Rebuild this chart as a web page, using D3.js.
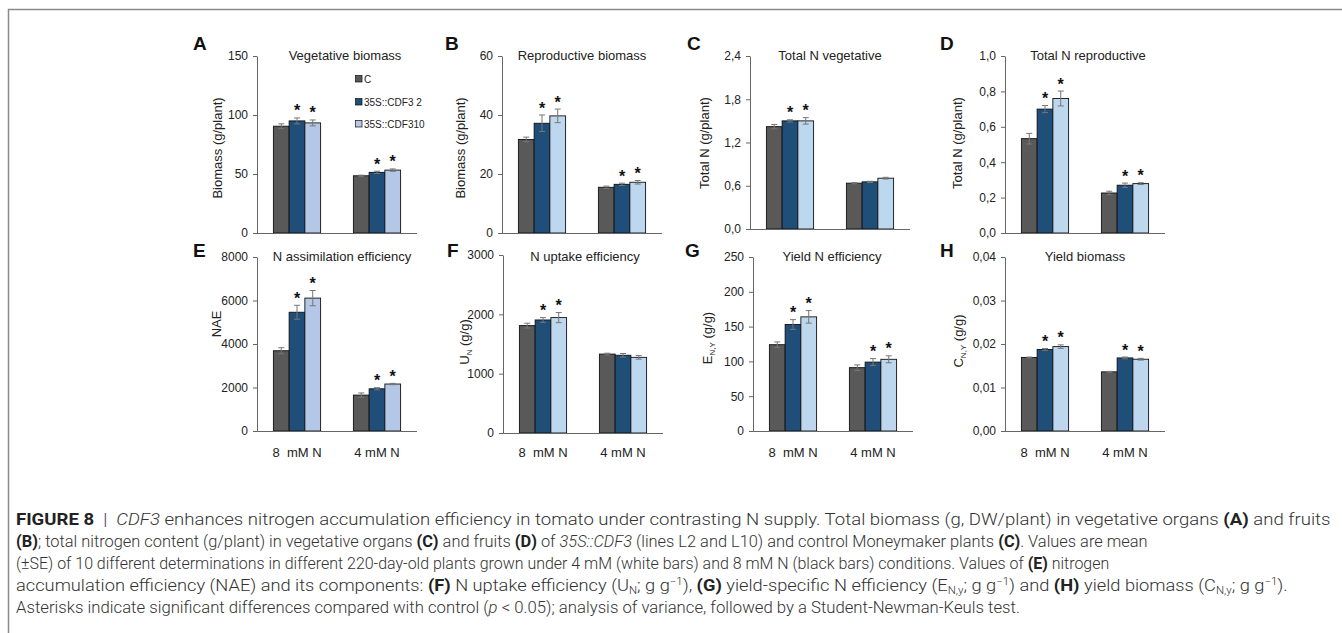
<!DOCTYPE html>
<html><head><meta charset="utf-8">
<script src="https://cdn.jsdelivr.net/npm/d3@7"></script>
<style>
html,body{margin:0;padding:0;background:#fff;}
svg{display:block;font-family:"Liberation Sans",Arial,sans-serif;}
</style></head><body>
<svg id="fig" width="1342" height="633"></svg>
<script>
// ---------- DATA ----------
const categories = ["8  mM N", "4 mM N"];
const seriesNames = ["C", "35S::CDF3 2", "35S::CDF310"];

// rows = categories, columns = series
const vegBiomass      = [[90.5, 95.0, 93.3], [48.5, 51.4, 53.3]];
const vegBiomassErr   = [[2.0, 2.5, 2.5], [0.5, 1.0, 1.0]];
const vegBiomassSig   = [[0, 1, 1], [0, 1, 1]];
const vegBiomassTicks = [0, 50, 100, 150];

const repBiomass      = [[31.7, 37.2, 39.7], [15.5, 16.5, 17.2]];
const repBiomassErr   = [[0.8, 2.8, 2.3], [0.4, 0.4, 0.6]];
const repBiomassSig   = [[0, 1, 1], [0, 1, 1]];
const repBiomassTicks = [0, 20, 40, 60];

const totNVeg      = [[1.42, 1.50, 1.50], [0.636, 0.654, 0.705]];
const totNVegErr   = [[0.03, 0.015, 0.045], [0.008, 0.008, 0.012]];
const totNVegSig   = [[0, 1, 1], [0, 0, 0]];
const totNVegTicks = [0, 0.6, 1.2, 1.8, 2.4];

const totNRep      = [[0.533, 0.700, 0.760], [0.226, 0.270, 0.279]];
const totNRepErr   = [[0.03, 0.02, 0.042], [0.01, 0.012, 0.005]];
const totNRepSig   = [[0, 1, 1], [0, 1, 1]];
const totNRepTicks = [0, 0.2, 0.4, 0.6, 0.8, 1.0];

const nae      = [[3690, 5460, 6110], [1650, 1940, 2160]];
const naeErr   = [[140, 320, 350], [100, 50, 30]];
const naeSig   = [[0, 1, 1], [0, 1, 1]];
const naeTicks = [0, 2000, 4000, 6000, 8000];

const uptake      = [[1810, 1905, 1945], [1330, 1310, 1275]];
const uptakeErr   = [[40, 40, 85], [15, 30, 30]];
const uptakeSig   = [[0, 1, 1], [0, 0, 0]];
const uptakeTicks = [0, 1000, 2000, 3000];

const yieldN      = [[124, 153, 164], [91, 99, 103]];
const yieldNErr   = [[4, 7, 9], [4, 5, 5]];
const yieldNSig   = [[0, 1, 1], [0, 1, 1]];
const yieldNTicks = [0, 50, 100, 150, 200, 250];

const yieldBio      = [[0.0169, 0.01875, 0.0194], [0.0136, 0.0168, 0.0165]];
const yieldBioErr   = [[0.0001, 0.0002, 0.0004], [0.0001, 0.0002, 0.0002]];
const yieldBioSig   = [[0, 1, 1], [0, 1, 1]];
const yieldBioTicks = [0, 0.01, 0.02, 0.03, 0.04];

// ---------- LAYOUT ----------
const panels = [
  {letter:"A", lx:193, ly:50,  title:"Vegetative biomass", tdx:88, ty:60, ylab:[["Biomass (g/plant)"]], ylx:222, yly:148,
   data:vegBiomass, err:vegBiomassErr, sig:vegBiomassSig, ticks:vegBiomassTicks, dec:0, x0:257, yTop:56, yBot:233, light:"#b4c7e7", legend:true},
  {letter:"B", lx:445, ly:50,  title:"Reproductive biomass", tdx:80, ty:60, ylab:[["Biomass (g/plant)"]], ylx:465, yly:148,
   data:repBiomass, err:repBiomassErr, sig:repBiomassSig, ticks:repBiomassTicks, dec:0, x0:502, yTop:56, yBot:233, light:"#bdd7ee"},
  {letter:"C", lx:687, ly:50,  title:"Total N vegetative", tdx:80, ty:60, ylab:[["Total N (g/plant)"]], ylx:709, yly:143,
   data:totNVeg, err:totNVegErr, sig:totNVegSig, ticks:totNVegTicks, dec:1, x0:750, yTop:56, yBot:229, light:"#bdd7ee"},
  {letter:"D", lx:940, ly:50,  title:"Total N reproductive", tdx:83, ty:60, ylab:[["Total N (g/plant)"]], ylx:962, yly:143,
   data:totNRep, err:totNRepErr, sig:totNRepSig, ticks:totNRepTicks, dec:1, x0:1005, yTop:56, yBot:233, light:"#bdd7ee"},
  {letter:"E", lx:193, ly:257, title:"N assimilation efficiency", tdx:85, ty:261, ylab:[["NAE"]], ylx:221, yly:324,
   data:nae, err:naeErr, sig:naeSig, ticks:naeTicks, dec:0, x0:257, yTop:257, yBot:431, light:"#b4c7e7", xlabels:true},
  {letter:"F", lx:447, ly:257, title:"N uptake efficiency", tdx:82, ty:261, ylab:[["U"],["N","sub"],[" (g/g)"]], ylx:469, yly:342,
   data:uptake, err:uptakeErr, sig:uptakeSig, ticks:uptakeTicks, dec:0, x0:503, yTop:255, yBot:433, light:"#bdd7ee", xlabels:true},
  {letter:"G", lx:685, ly:257, title:"Yield N efficiency", tdx:79, ty:261, ylab:[["E"],["N,Y","sub"],[" (g/g)"]], ylx:712, yly:338,
   data:yieldN, err:yieldNErr, sig:yieldNSig, ticks:yieldNTicks, dec:0, x0:753, yTop:257, yBot:431, light:"#bdd7ee", xlabels:true},
  {letter:"H", lx:940, ly:257, title:"Yield biomass", tdx:80, ty:261, ylab:[["C"],["N,Y","sub"],[" (g/g)"]], ylx:963, yly:341,
   data:yieldBio, err:yieldBioErr, sig:yieldBioSig, ticks:yieldBioTicks, dec:2, x0:1005, yTop:257, yBot:431, light:"#bdd7ee", xlabels:true}
];
const plotW = 160;
const darkGray = "#595959", darkBlue = "#1f4e79";

const svg = d3.select("#fig");

// frame
svg.append("path").attr("d", "M1342,9.5 H8.5 V633").attr("fill","none").attr("stroke","#8a8a8a").attr("stroke-width",1.5);

function fmt(v, dec){ return dec===0 ? String(v) : v.toFixed(dec).replace(".", ","); }

panels.forEach(p => {
  const colors = [darkGray, darkBlue, p.light];
  const g = svg.append("g");
  const y = d3.scaleLinear().domain([0, p.ticks[p.ticks.length-1]]).range([p.yBot, p.yTop]);
  const x = d3.scaleBand().domain(categories).range([p.x0, p.x0 + plotW]).paddingInner(0.41).paddingOuter(0.205);
  const xs = d3.scaleBand().domain(seriesNames).range([0, x.bandwidth()]);

  // panel letter
  g.append("text").attr("x", p.lx).attr("y", p.ly).attr("font-size", 19).attr("font-weight", "bold")
    .attr("fill", "#111").text(p.letter);
  // title
  g.append("text").attr("x", p.x0 + p.tdx).attr("y", p.ty).attr("text-anchor","middle")
    .attr("font-size", 13).attr("fill","#222").text(p.title);

  // y axis
  const ya = g.append("g").attr("transform", `translate(${p.x0},0)`)
    .call(d3.axisLeft(y).tickValues(p.ticks).tickFormat(d => fmt(d, p.dec)).tickSize(4).tickSizeOuter(0).tickPadding(5));
  ya.select(".domain").attr("stroke","#666");
  ya.selectAll(".tick line").attr("stroke","#666");
  ya.selectAll(".tick text").attr("font-size", 12).attr("fill","#222").attr("font-family","Liberation Sans, Arial, sans-serif");

  // y label
  const yl = g.append("text").attr("transform", `translate(${p.ylx},${p.yly}) rotate(-90)`)
    .attr("text-anchor","middle").attr("font-size", 13).attr("fill","#222");
  p.ylab.forEach((seg, i) => {
    const t = yl.append("tspan").text(seg[0]);
    if (seg[1] === "sub") t.attr("font-size", 8).attr("dy", 3);
    else if (i > 0 && p.ylab[i-1][1] === "sub") t.attr("dy", -3);
  });

  // bars
  p.data.forEach((row, ci) => {
    row.forEach((v, si) => {
      const bx = x(categories[ci]) + xs(seriesNames[si]);
      g.append("rect").attr("x", bx).attr("y", y(v)).attr("width", xs.bandwidth()).attr("height", y(0) - y(v))
        .attr("fill", colors[si]).attr("stroke", "#111").attr("stroke-width", 0.9);
    });
  });

  // x axis
  const xa = g.append("g").attr("transform", `translate(0,${p.yBot})`)
    .call(d3.axisBottom(x).tickSize(0).tickSizeOuter(0));
  xa.select(".domain").attr("stroke","#666").attr("d", `M${p.x0},0.5H${p.x0 + plotW}`);
  if (p.xlabels) {
    xa.selectAll(".tick text").attr("font-size", 13).attr("fill","#222").attr("y", 457 - p.yBot).attr("dy", 0)
      .attr("font-family","Liberation Sans, Arial, sans-serif").style("white-space","pre");
  } else {
    xa.selectAll(".tick text").remove();
  }

  // error bars + asterisks
  p.data.forEach((row, ci) => {
    row.forEach((v, si) => {
      const cx = x(categories[ci]) + xs(seriesNames[si]) + xs.bandwidth()/2;
      const e = p.err[ci][si];
      const y1 = y(v + e), y2 = y(v - e);
      g.append("line").attr("x1", cx).attr("x2", cx).attr("y1", y1).attr("y2", y2).attr("stroke","#777").attr("stroke-width",1);
      [y1, y2].forEach(yy => g.append("line").attr("x1", cx-3).attr("x2", cx+3).attr("y1", yy).attr("y2", yy)
        .attr("stroke","#777").attr("stroke-width",1));
      if (p.sig[ci][si]) {
        g.append("text").attr("x", cx).attr("y", y1 - 1.5).attr("text-anchor","middle")
          .attr("font-size", 16).attr("font-weight","bold").attr("fill","#111").text("*");
      }
    });
  });

  // legend
  if (p.legend) {
    const ly = [79, 102, 124];
    seriesNames.forEach((s, i) => {
      g.append("rect").attr("x", 355.5).attr("y", ly[i] - 3.5).attr("width", 6.5).attr("height", 6.5)
        .attr("fill", colors[i]).attr("stroke","#111").attr("stroke-width",0.7);
      g.append("text").attr("x", 364).attr("y", ly[i] + 3.5).attr("font-size", 10).attr("fill","#222").text(s);
    });
  }
});

// ---------- CAPTION ----------
const captionLines = [
  {y:525, end:1331, segs:[["FIGURE 8","b"],["  |  ",""],["CDF3","i"],[" enhances nitrogen accumulation efficiency in tomato under contrasting N supply. Total biomass (g, DW/plant) in vegetative organs ",""],["(A)","b"],[" and fruits",""]]},
  {y:547, end:1149, segs:[["(B)","b"],["; total nitrogen content (g/plant) in vegetative organs ",""],["(C)","b"],[" and fruits ",""],["(D)","b"],[" of ",""],["35S::CDF3","i"],[" (lines L2 and L10) and control Moneymaker plants ",""],["(C)","b"],[". Values are mean",""]]},
  {y:569, end:1110, segs:[["(±SE) of 10 different determinations in different 220-day-old plants grown under 4 mM (white bars) and 8 mM N (black bars) conditions. Values of ",""],["(E)","b"],[" nitrogen",""]]},
  {y:591, end:1289, segs:[["accumulation efficiency (NAE) and its components: ",""],["(F)","b"],[" N uptake efficiency (U",""],["N","sub"],["; g g",""],["−1","sup"],["), ",""],["(G)","b"],[" yield-specific N efficiency (E",""],["N,y","sub"],["; g g",""],["−1","sup"],[") and ",""],["(H)","b"],[" yield biomass (C",""],["N,y","sub"],["; g g",""],["−1","sup"],[").",""]]},
  {y:613, end:1020, segs:[["Asterisks indicate significant differences compared with control (",""],["p","i"],[" < 0.05); analysis of variance, followed by a Student-Newman-Keuls test.",""]]}
];
const capX = 16;
captionLines.forEach(line => {
  const gl = svg.append("g").attr("transform", `translate(${capX},${line.y})`);
  const t = gl.append("text").attr("x", 0).attr("y", 0).attr("font-size", 16)
    .attr("font-family", "Roboto, 'Liberation Sans', sans-serif").attr("font-weight", 300).attr("fill", "#333")
    .style("white-space","pre");
  let shift = 0;
  line.segs.forEach(seg => {
    const ts = t.append("tspan").text(seg[0]);
    let target = 0;
    if (seg[1] === "b") ts.attr("font-weight", 700).attr("fill","#222");
    if (seg[1] === "i") ts.attr("font-style", "italic");
    if (seg[1] === "sub") { ts.attr("font-size", 10); target = 3; }
    if (seg[1] === "sup") { ts.attr("font-size", 10); target = -6; }
    if (target !== shift) { ts.attr("dy", target - shift); shift = target; }
  });
  const len = t.node().getComputedTextLength();
  const sx = (line.end - capX) / len;
  t.attr("transform", `scale(${sx},1)`);
});
</script>
</body></html>
